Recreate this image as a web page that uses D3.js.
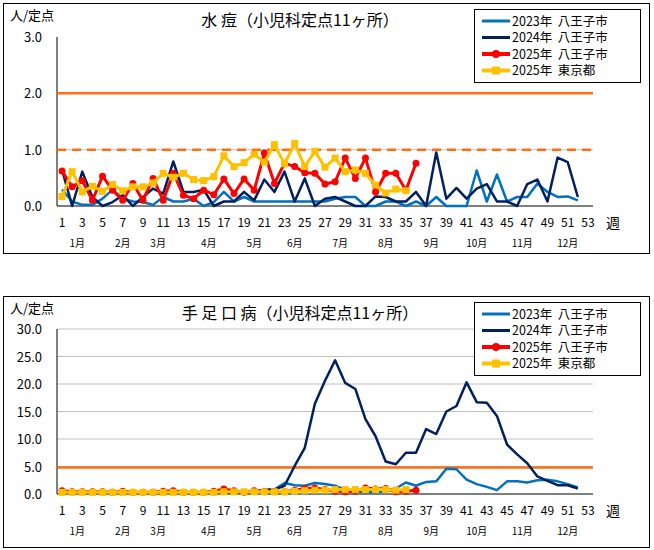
<!DOCTYPE html>
<html><head><meta charset="utf-8">
<script src="https://cdn.jsdelivr.net/npm/d3@7"></script>
<style>body{margin:0;background:#fff;font-family:"Noto Sans CJK JP","Liberation Sans",sans-serif;}</style>
</head><body><div id="canvas"></div>
<script>
var weeks = d3.range(1, 54);
var weekTicks = d3.range(1, 54, 2);
var months = ["1月","2月","3月","4月","5月","6月","7月","8月","9月","10月","11月","12月"];
var monthPos = [2.5,7,10.5,15.5,20,24,28.5,33,37.5,42,46.5,51];
var seriesNames = ["2023年  八王子市","2024年  八王子市","2025年  八王子市","2025年  東京都"];

// 水痘
var chickenpox2023 = [0.29,0.08,0.02,0.02,0.13,0.29,0.13,0.08,0.07,0.02,0.16,0.08,0.08,0.13,0,0.07,0.25,0.08,0.16,0.08,0.08,0.08,0.08,0.08,0.08,0.08,0.08,0.13,0.16,0.16,0,0,0.08,0.08,0,0.08,0,0.16,0,0,0,0.63,0.08,0.56,0.08,0.16,0.16,0.4,0.25,0.16,0.17,0.1];
var chickenpox2024 = [0.64,0,0.61,0.16,0,0.07,0.19,0,0.16,0.31,0.22,0.79,0.25,0.25,0.29,0,0.08,0.08,0.25,0.1,0.47,0.25,0.61,0.08,0.49,0,0.13,0.16,0.08,0,0,0.17,0.16,0.08,0.08,0.25,0,0.95,0.13,0.32,0.13,0.31,0.39,0.08,0.08,0,0.39,0.47,0.08,0.86,0.78,0.16];
var chickenpox2025 = [0.62,0.34,0.45,0.1,0.53,0.28,0.1,0.4,0.1,0.49,0.1,0.58,0.19,0.13,0.28,0.2,0.48,0.22,0.48,0.28,0.94,0.4,0.76,0.7,0.59,0.58,0.39,0.43,0.85,0.49,0.85,0.25,0.58,0.58,0.28,0.76];
var chickenpoxTokyo = [0.17,0.61,0.25,0.35,0.26,0.38,0.27,0.34,0.34,0.41,0.58,0.51,0.58,0.47,0.45,0.52,0.89,0.7,0.77,0.92,0.78,1.09,0.75,1.11,0.7,0.97,0.69,0.85,0.61,0.64,0.58,0.37,0.23,0.3,0.27];

// 手足口病
var hfmd2023 = [0.3,0.3,0.2,0.2,0.3,0.2,0.3,0.2,0.2,0.2,0.3,0.3,0.2,0.2,0.2,0.3,0.3,0.3,0.3,0.4,0.5,0.8,2.0,1.6,1.5,2.0,1.8,1.5,0.8,0.5,0.3,0.3,0.5,1.0,2.1,1.5,2.2,2.3,4.6,4.5,2.6,1.8,1.3,0.7,2.3,2.3,2.1,2.5,2.6,2.3,1.8,1.2];
var hfmd2024 = [0.3,0.3,0.3,0.3,0.3,0.3,0.3,0.3,0.3,0.3,0.3,0.3,0.3,0.3,0.3,0.3,0.3,0.3,0.3,0.4,0.8,0.8,1.5,5.1,8.4,16.4,20.6,24.3,20.2,19.1,13.6,10.5,5.9,5.4,7.5,7.5,11.8,10.9,15.0,16.0,20.3,16.7,16.6,14.2,9.0,7.2,5.6,3.2,2.4,1.6,1.6,1.0];
var hfmd2025 = [0.6,0.4,0.4,0.4,0.4,0.3,0.5,0.3,0.3,0.3,0.5,0.6,0.3,0.3,0.3,0.5,0.9,0.6,0.3,0.6,0.4,0.4,0.4,0.7,1.0,1.1,0.8,0.5,0.4,0.5,1.1,0.9,1.0,0.4,0.5,0.7];
var hfmdTokyo = [0.3,0.3,0.3,0.3,0.3,0.3,0.3,0.3,0.3,0.3,0.3,0.3,0.3,0.3,0.3,0.3,0.4,0.4,0.4,0.4,0.4,0.4,0.4,0.5,0.6,0.7,0.7,0.8,0.8,0.8,0.8,0.8,0.8,0.7,0.8];

var colors = ["#0070c0","#002060","#ff0000","#ffc000"];
var font = '"Noto Sans CJK JP","Liberation Sans",sans-serif';

var svg = d3.select("#canvas").append("svg").attr("width", 654).attr("height", 550)
    .style("font-family", font);

function drawPanel(cfg) {
    var g = svg.append("g").attr("transform", "translate(0," + cfg.top + ")");
    g.append("rect").attr("x", 3.5).attr("y", 0.5).attr("width", 646).attr("height", cfg.boxH)
        .attr("fill", "#fff").attr("stroke", "#000");
    var x = d3.scaleLinear().domain([0.5, 53.5]).range([57, 593]);
    var y = d3.scaleLinear().domain([0, cfg.max]).range([cfg.y0, cfg.yTop]);

    g.selectAll(".grid").data(cfg.grid).join("line")
        .attr("x1", 57).attr("x2", 593).attr("y1", y).attr("y2", y)
        .attr("stroke", "#c0c0c0").attr("stroke-width", 1);
    g.append("line").attr("x1", 57).attr("x2", 57).attr("y1", cfg.yTop).attr("y2", cfg.y0).attr("stroke", "#000");
    g.append("line").attr("x1", 57).attr("x2", 593).attr("y1", cfg.y0).attr("y2", cfg.y0).attr("stroke", "#000");

    g.selectAll(".yl").data(cfg.ticks).join("text")
        .attr("x", 42).attr("y", function (d) { return y(d) + 5; }).attr("text-anchor", "end")
        .attr("font-size", 13).text(function (d) { return d.toFixed(1); });
    g.selectAll(".xl").data(weekTicks).join("text")
        .attr("x", x).attr("y", cfg.y0 + 21).attr("text-anchor", "middle")
        .attr("font-size", 12).text(function (d) { return d; });
    g.append("text").attr("x", 606).attr("y", cfg.y0 + 22).attr("font-size", 14).text("週");
    g.selectAll(".ml").data(months).join("text")
        .attr("x", function (d, i) { return x(monthPos[i]); }).attr("y", cfg.y0 + 41)
        .attr("text-anchor", "middle").attr("font-size", 10).text(function (d) { return d; });
    g.append("text").attr("x", 10).attr("y", 17).attr("font-size", 13).text("人/定点");
    g.append("text").attr("x", 300).attr("y", 23).attr("text-anchor", "middle")
        .attr("font-size", 16).text(cfg.title);

    cfg.refs.forEach(function (r) {
        g.append("line").attr("x1", 57).attr("x2", 593).attr("y1", y(r.v)).attr("y2", y(r.v))
            .attr("stroke", "#ff6f0f").attr("stroke-width", 2.5)
            .attr("stroke-dasharray", r.dash ? "9,6" : null);
    });

    var line = d3.line().x(function (d, i) { return x(i + 1); }).y(function (d) { return y(d); });
    cfg.data.forEach(function (s, k) {
        g.append("path").datum(s).attr("d", line).attr("fill", "none")
            .attr("stroke", colors[k]).attr("stroke-width", k >= 2 ? 3 : 2.5)
            .attr("stroke-linejoin", "round");
        if (k == 2) {
            g.selectAll(".m" + k).data(s).join("circle")
                .attr("cx", function (d, i) { return x(i + 1); }).attr("cy", y).attr("r", 3.5).attr("fill", colors[k]);
        }
        if (k == 3) {
            g.selectAll(".m" + k).data(s).join("rect")
                .attr("x", function (d, i) { return x(i + 1) - 3.5; }).attr("y", function (d) { return y(d) - 3.5; })
                .attr("width", 7).attr("height", 7).attr("fill", colors[k]);
        }
    });

    var lg = g.append("g").attr("transform", "translate(" + cfg.legX + "," + cfg.legY + ")");
    lg.append("rect").attr("x", 0.5).attr("y", 0.5).attr("width", 166).attr("height", 73)
        .attr("fill", "#fff").attr("stroke", "#000");
    seriesNames.forEach(function (n, k) {
        var yy = 12 + k * 16.5;
        lg.append("line").attr("x1", 8).attr("x2", 36).attr("y1", yy).attr("y2", yy)
            .attr("stroke", colors[k]).attr("stroke-width", k >= 2 ? 4 : 3);
        if (k == 2) lg.append("circle").attr("cx", 22).attr("cy", yy).attr("r", 4).attr("fill", colors[k]);
        if (k == 3) lg.append("rect").attr("x", 18).attr("y", yy - 4).attr("width", 8).attr("height", 8).attr("fill", colors[k]);
        lg.append("text").attr("x", 38).attr("y", yy + 4.5).attr("font-size", 12.5)
            .style("white-space", "pre").text(n);
    });
}

drawPanel({
    top: 3, boxH: 250, max: 3, y0: 206 - 3, yTop: 37 - 3, ticks: [0, 1, 2, 3], grid: [1],
    title: "水 痘（小児科定点11ヶ所）",
    refs: [{ v: 2, dash: false }, { v: 1, dash: true }],
    data: [chickenpox2023, chickenpox2024, chickenpox2025, chickenpoxTokyo],
    legX: 474, legY: 6
});
drawPanel({
    top: 296, boxH: 251, max: 30, y0: 494 - 296, yTop: 329 - 296, ticks: [0, 5, 10, 15, 20, 25, 30],
    grid: [5, 10, 15, 20, 25, 30],
    title: "手 足 口 病（小児科定点11ヶ所）",
    refs: [{ v: 4.8, dash: false }],
    data: [hfmd2023, hfmd2024, hfmd2025, hfmdTokyo],
    legX: 474, legY: 6
});
</script>
</body></html>
